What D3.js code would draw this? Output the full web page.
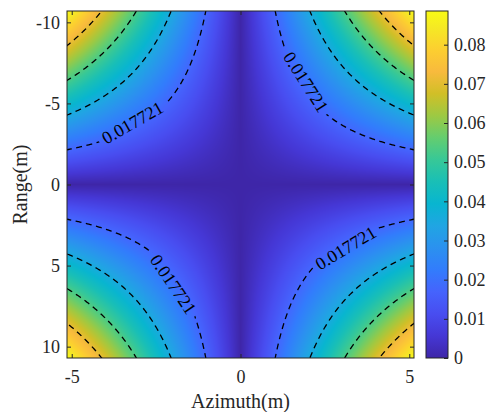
<!DOCTYPE html>
<html>
<head>
<meta charset="utf-8">
<script src="https://cdn.jsdelivr.net/npm/d3@7"></script>
<style>
  body { margin: 0; background: #fff; }
  svg text { font-family: "Liberation Serif", "Times New Roman", Times, "DejaVu Serif", serif !important; }
</style>
</head>
<body>
<div id="chart"></div>
<script>
// grid (rows = range, cols = azimuth)
const azimuth = [-5.14, -2.5, 0, 2.5, 5.14];
const range = [-10.7, -5, 0, 5, 10.7];
const field = [
  [0.0886, 0.0431, 0, 0.0431, 0.0886],
  [0.0414, 0.0201, 0, 0.0201, 0.0414],
  [0, 0, 0, 0, 0],
  [0.0414, 0.0201, 0, 0.0201, 0.0414],
  [0.0886, 0.0431, 0, 0.0431, 0.0886]
];
const levels = [0.017721, 0.035442, 0.053163, 0.070884];
const labelSpots = [[-3.12, -3.52], [1.91, -6.27], [-1.91, 6.08], [3.09, 3.86]];
const xTicks = [-5, 0, 5];
const yTicks = [-10, -5, 0, 5, 10];
const cTicks = [0, 0.01, 0.02, 0.03, 0.04, 0.05, 0.06, 0.07, 0.08];
const cMax = 0.0886;

// parula colormap
const parula = ["#3e26a8", "#4537d5", "#484df0", "#4563fd", "#327cfc", "#2b91ef",
  "#20a5e3", "#08b5d0", "#19bfb6", "#37c897", "#64cd6f", "#9dc943", "#d1bf27",
  "#f8ba3d", "#fccf30", "#f5e924", "#f9fb15"];
const parulaPos = [0, 4, 8, 12, 16, 20, 24, 28, 32, 36, 40, 44, 48, 52, 56, 60, 63].map(i => i / 63);

let width = 488, height = 412,
  margin = ({ top: 11, right: 74, bottom: 54, left: 67 });

let x = d3.scaleLinear()
  .domain([azimuth[0], azimuth[azimuth.length - 1]])
  .range([margin.left, width - margin.right]);

let y = d3.scaleLinear()
  .domain([range[0], range[range.length - 1]])
  .range([margin.top, height - margin.bottom]);

let color = d3.scaleLinear()
  .domain(parulaPos.map(p => p * cMax))
  .range(parula)
  .interpolate(d3.interpolateRgb)
  .clamp(true);

const fmt = d => String(d); // plain hyphen minus like MATLAB

function valueAt(a, r) {
  let i = Math.max(0, Math.min(d3.bisectRight(azimuth, a) - 1, azimuth.length - 2));
  let j = Math.max(0, Math.min(d3.bisectRight(range, r) - 1, range.length - 2));
  let tx = Math.max(0, Math.min(1, (a - azimuth[i]) / (azimuth[i + 1] - azimuth[i])));
  let ty = Math.max(0, Math.min(1, (r - range[j]) / (range[j + 1] - range[j])));
  return (1 - ty) * ((1 - tx) * field[j][i] + tx * field[j][i + 1]) +
    ty * ((1 - tx) * field[j + 1][i] + tx * field[j + 1][i + 1]);
}

const svg = d3.select("#chart")
  .append("svg")
  .attr("width", width)
  .attr("height", height)
  .attr("viewBox", [0, 0, width, height]);

const pw = x.range()[1] - x.range()[0],
  ph = y.range()[1] - y.range()[0];

// interpolated shading
const canvas = document.createElement("canvas");
canvas.width = Math.round(pw);
canvas.height = Math.round(ph);
const ctx = canvas.getContext("2d");
const img = ctx.createImageData(canvas.width, canvas.height);
for (let py = 0; py < canvas.height; py++) {
  for (let px = 0; px < canvas.width; px++) {
    let v = valueAt(x.invert(margin.left + px + 0.5), y.invert(margin.top + py + 0.5));
    let c = d3.rgb(color(v));
    let k = (py * canvas.width + px) * 4;
    img.data[k] = c.r; img.data[k + 1] = c.g; img.data[k + 2] = c.b; img.data[k + 3] = 255;
  }
}
ctx.putImageData(img, 0, 0);

svg.append("image")
  .attr("x", margin.left)
  .attr("y", margin.top)
  .attr("width", pw)
  .attr("height", ph)
  .attr("preserveAspectRatio", "none")
  .attr("href", canvas.toDataURL());

// contours
const n = 240;
const grid = new Array(n * n);
const gx = i => azimuth[0] + i / (n - 1) * (azimuth[azimuth.length - 1] - azimuth[0]);
const gy = j => range[0] + j / (n - 1) * (range[range.length - 1] - range[0]);
for (let j = 0; j < n; j++)
  for (let i = 0; i < n; i++)
    grid[j * n + i] = valueAt(gx(i), gy(j));

const contours = d3.contours().size([n, n]).thresholds(levels)(grid);
const onB = p => p[0] <= 0 || p[0] >= n || p[1] <= 0 || p[1] >= n;
const toPx = p => [x(gx(p[0] - 0.5)), y(gy(p[1] - 0.5))];

svg.append("clipPath").attr("id", "plotClip")
  .append("rect")
  .attr("x", margin.left).attr("y", margin.top)
  .attr("width", pw).attr("height", ph);

const lines = levels.map(() => []);
contours.forEach((c, li) => {
  c.coordinates.forEach(poly => poly.forEach(ring => {
    let m = ring.length - 1; // closed ring
    let start = 0;
    for (let k = 0; k < m; k++) {
      let prev = ring[(k - 1 + m) % m];
      if (onB(prev) && onB(ring[k])) { start = k; break; }
    }
    let cur = null;
    for (let s = 0; s < m; s++) {
      let a = ring[(start + s) % m], b = ring[(start + s + 1) % m];
      if (onB(a) && onB(b)) {
        if (cur) { lines[li].push(cur); cur = null; }
        continue;
      }
      if (!cur) cur = [toPx(a)];
      cur.push(toPx(b));
    }
    if (cur) lines[li].push(cur);
  }));
});

// labels on the first level, set along the chord like clabel
const labelFont = 18;
const half = 39;
function pointAt(L, cum, s) {
  s = Math.max(0, Math.min(cum[cum.length - 1], s));
  let k = Math.max(1, d3.bisectLeft(cum, s));
  let t = (s - cum[k - 1]) / (cum[k] - cum[k - 1] || 1);
  return [L[k - 1][0] + t * (L[k][0] - L[k - 1][0]), L[k - 1][1] + t * (L[k][1] - L[k - 1][1])];
}
const labels = labelSpots.map(s => {
  let t = [x(s[0]), y(s[1])];
  let best = null, bd = Infinity;
  lines[0].forEach(line => line.forEach((p, i) => {
    let d = (p[0] - t[0]) ** 2 + (p[1] - t[1]) ** 2;
    if (d < bd) { bd = d; best = { line, i }; }
  }));
  let L = best.line;
  let cum = [0];
  for (let k = 1; k < L.length; k++)
    cum.push(cum[k - 1] + Math.hypot(L[k][0] - L[k - 1][0], L[k][1] - L[k - 1][1]));
  let a = pointAt(L, cum, cum[best.i] - half), b = pointAt(L, cum, cum[best.i] + half);
  if (a[0] > b[0]) [a, b] = [b, a];
  let ang = Math.atan2(b[1] - a[1], b[0] - a[0]) * 180 / Math.PI;
  return { p: [(a[0] + b[0]) / 2, (a[1] + b[1]) / 2], ang, len: Math.hypot(b[0] - a[0], b[1] - a[1]) };
});

const mask = svg.append("mask").attr("id", "labelMask")
  .attr("maskUnits", "userSpaceOnUse")
  .attr("x", 0).attr("y", 0).attr("width", width).attr("height", height);
mask.append("rect").attr("width", width).attr("height", height).attr("fill", "white");
mask.selectAll("rect.hole")
  .data(labels)
  .join("rect")
  .attr("class", "hole")
  .attr("x", d => -d.len / 2).attr("y", -9)
  .attr("width", d => d.len).attr("height", 18)
  .attr("fill", "black")
  .attr("transform", d => `translate(${d.p[0]},${d.p[1]}) rotate(${d.ang})`);

const line = d3.line();
svg.append("g")
  .attr("clip-path", "url(#plotClip)")
  .append("g")
  .attr("mask", "url(#labelMask)")
  .selectAll("path")
  .data(lines.flat())
  .join("path")
  .attr("d", line)
  .attr("fill", "none")
  .attr("stroke", "black")
  .attr("stroke-width", 1.3)
  .attr("stroke-dasharray", "6,4.5");

svg.append("g")
  .selectAll("text")
  .data(labels)
  .join("text")
  .attr("transform", d => `translate(${d.p[0]},${d.p[1]}) rotate(${d.ang})`)
  .attr("text-anchor", "middle")
  .attr("dy", "0.34em")
  .attr("font-size", labelFont)
  .attr("fill", "black")
  .text(fmt(levels[0]));

// axes
const axisColor = "#262626";
function styleAxis(g, labels) {
  g.attr("font-family", null);
  g.select(".domain").remove();
  g.selectAll(".tick line").attr("stroke", axisColor);
  g.selectAll(".tick text")
    .attr("fill", axisColor)
    .attr("font-size", 18);
  if (!labels) g.selectAll(".tick text").remove();
}

svg.append("g")
  .attr("transform", `translate(0,${height - margin.bottom})`)
  .call(d3.axisBottom(x).tickValues(xTicks).tickSizeInner(-4).tickSizeOuter(0).tickPadding(12).tickFormat(fmt))
  .call(g => styleAxis(g, true));

svg.append("g")
  .attr("transform", `translate(0,${margin.top})`)
  .call(d3.axisTop(x).tickValues(xTicks).tickSizeInner(-4).tickSizeOuter(0))
  .call(g => styleAxis(g, false));

svg.append("g")
  .attr("transform", `translate(${margin.left},0)`)
  .call(d3.axisLeft(y).tickValues(yTicks).tickSizeInner(-4).tickSizeOuter(0).tickPadding(7).tickFormat(fmt))
  .call(g => styleAxis(g, true));

svg.append("g")
  .attr("transform", `translate(${width - margin.right},0)`)
  .call(d3.axisRight(y).tickValues(yTicks).tickSizeInner(-4).tickSizeOuter(0))
  .call(g => styleAxis(g, false));

svg.append("rect")
  .attr("x", margin.left).attr("y", margin.top)
  .attr("width", pw).attr("height", ph)
  .attr("fill", "none")
  .attr("stroke", axisColor)
  .attr("stroke-width", 1);

// axis titles
svg.append("text")
  .attr("x", x(0))
  .attr("y", 408)
  .attr("text-anchor", "middle")
  .attr("font-size", 20)
  .attr("fill", axisColor)
  .text("Azimuth(m)");

svg.append("text")
  .attr("transform", `translate(27,${y(0)}) rotate(-90)`)
  .attr("text-anchor", "middle")
  .attr("font-size", 20)
  .attr("fill", axisColor)
  .text("Range(m)");

// colorbar
const cbX = 426, cbW = 22;
let cy = d3.scaleLinear()
  .domain([0, cMax])
  .range([height - margin.bottom, margin.top]);

const grad = svg.append("defs").append("linearGradient")
  .attr("id", "cbGrad")
  .attr("x1", 0).attr("y1", 1).attr("x2", 0).attr("y2", 0);
grad.selectAll("stop")
  .data(parula)
  .join("stop")
  .attr("offset", (d, i) => parulaPos[i])
  .attr("stop-color", d => d);

svg.append("rect")
  .attr("x", cbX).attr("y", margin.top)
  .attr("width", cbW).attr("height", ph)
  .attr("fill", "url(#cbGrad)")
  .attr("stroke", axisColor)
  .attr("stroke-width", 1);

svg.append("g")
  .attr("transform", `translate(${cbX + cbW},0)`)
  .call(d3.axisRight(cy).tickValues(cTicks).tickSizeInner(-4).tickSizeOuter(0).tickPadding(6).tickFormat(fmt))
  .call(g => styleAxis(g, true));
</script>
</body>
</html>
